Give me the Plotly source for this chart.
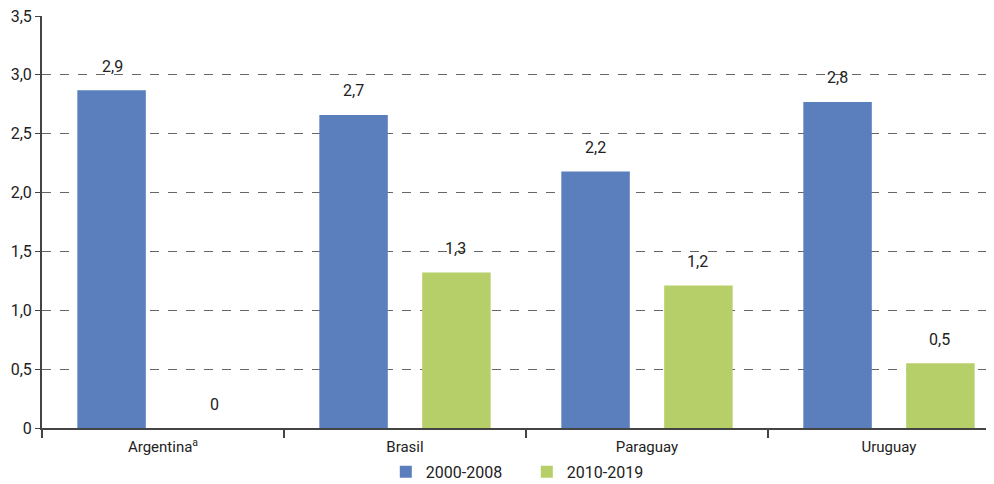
import plotly.graph_objects as go

categories = ["Argentina<sup>a</sup>", "Brasil", "Paraguay", "Uruguay"]
series_names = ["2000-2008", "2010-2019"]
values_2000_2008 = [2.87, 2.66, 2.18, 2.77]
values_2010_2019 = [0.0, 1.32, 1.21, 0.55]
labels_2000_2008 = ["2,9", "2,7", "2,2", "2,8"]
labels_2010_2019 = ["0", "1,3", "1,2", "0,5"]
y_tickvals = [0, 0.5, 1.0, 1.5, 2.0, 2.5, 3.0, 3.5]
y_ticktext = ["0", "0,5", "1,0", "1,5", "2,0", "2,5", "3,0", "3,5"]

BLUE = "#5b7fbc"
GREEN = "#b6cf69"
FONT = "Roboto, Arial, sans-serif"

bar_w = 0.283
half_gap = 0.2125

fig = go.Figure()
fig.add_trace(go.Bar(x=categories, y=values_2000_2008, name=series_names[0],
                     marker=dict(color=BLUE, line=dict(width=0)),
                     width=bar_w, offset=-half_gap - bar_w / 2))
fig.add_trace(go.Bar(x=categories, y=values_2010_2019, name=series_names[1],
                     marker=dict(color=GREEN, line=dict(width=0)),
                     width=bar_w, offset=half_gap - bar_w / 2))

annotations = []
for vals, labs, sh in ((values_2000_2008, labels_2000_2008, -51),
                       (values_2010_2019, labels_2010_2019, 51)):
    for c, v, t in zip(categories, vals, labs):
        annotations.append(dict(x=c, y=v, text=t, showarrow=False, xref="x", yref="y",
                                xshift=sh, yshift=24, yanchor="middle",
                                font=dict(size=16, color="#222222", family=FONT)))

fig.update_layout(
    width=994, height=484,
    margin=dict(l=34, r=0, t=8, b=64, autoexpand=False),
    paper_bgcolor="white", plot_bgcolor="white",
    barmode="overlay",
    font=dict(family=FONT, color="#222222"),
    annotations=annotations,
    showlegend=True,
    legend=dict(orientation="h", x=0.505, xanchor="center", y=-0.065, yanchor="top",
                font=dict(size=16, family=FONT, color="#222222"),
                entrywidth=96, traceorder="normal"),
    xaxis=dict(type="category", range=[-0.5, 3.467], automargin=False,
               showline=True, linecolor="#444444", linewidth=2,
               ticks="outside", tickson="boundaries", ticklen=8, tickcolor="#444444",
               tickwidth=1.5, ticklabelstandoff=4,
               tickfont=dict(size=15, family=FONT, color="#222222"),
               showgrid=False, zeroline=False),
    yaxis=dict(range=[0, 3.5], tickvals=y_tickvals, ticktext=y_ticktext, automargin=False,
               ticklabeloverflow="allow",
               showline=True, linecolor="#444444", linewidth=2,
               ticks="outside", ticklen=5, tickcolor="#444444",
               tickfont=dict(size=16, family=FONT, color="#222222"),
               showgrid=True, gridcolor="#666666", griddash="dash", gridwidth=1,
               zeroline=False),
)

fig.write_html("out.html")
